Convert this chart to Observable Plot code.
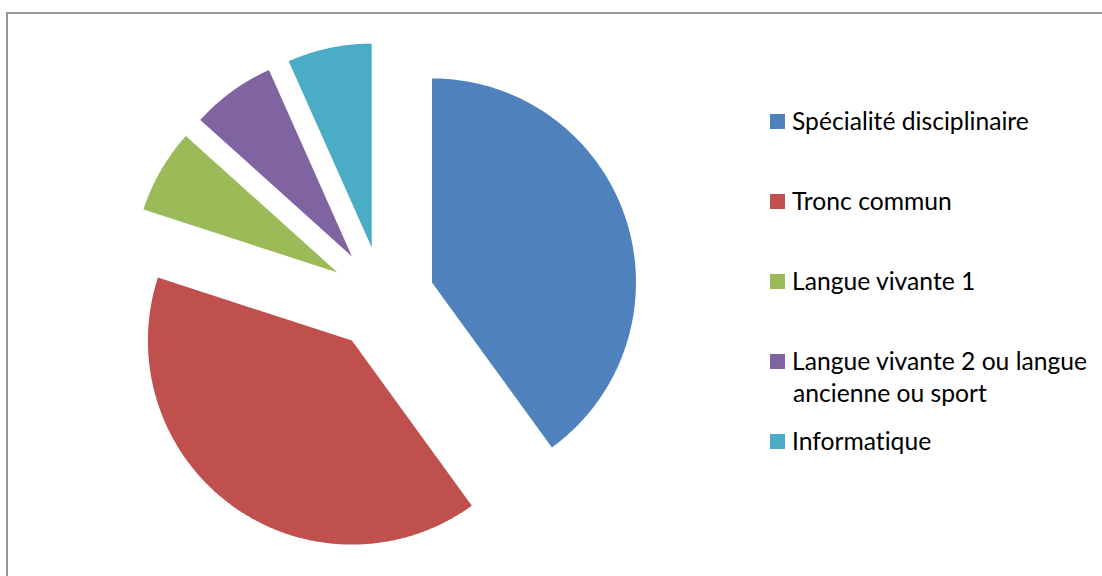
<!DOCTYPE html>
<html>
<head>
<meta charset="utf-8">
<script src="https://cdn.jsdelivr.net/npm/d3@7"></script>
<script src="https://cdn.jsdelivr.net/npm/@observablehq/plot@0.6"></script>
<style>
  html, body { margin: 0; padding: 0; background: #fff; overflow: hidden; width: 1102px; height: 576px; }
  #wrap { position: relative; width: 1102px; height: 576px; overflow: hidden; }
  #border { position: absolute; left: 6px; top: 12px; width: 1300px; height: 800px;
            border-left: 2px solid #969696; border-top: 2px solid #969696; box-sizing: border-box; }
  #chart { position: absolute; left: 0; top: 0; }
  #legend { position: absolute; left: 0; top: 0; width: 1102px; height: 576px;
            font-family: Lato, "Noto Sans", sans-serif; color: #000;
            font-variant-ligatures: none; font-feature-settings: "liga" 0, "clig" 0; }
  .sw { position: absolute; width: 15px; height: 15px; }
  .lt { position: absolute; white-space: nowrap; line-height: 1; }
  .strut { display: inline-block; width: 0; height: 0; }
</style>
</head>
<body>
<div id="wrap">
  <div id="border"></div>
  <div id="chart"></div>
  <div id="legend"></div>
</div>
<script>
// ---- Data ----
const categories = [
  "Spécialité disciplinaire",
  "Tronc commun",
  "Langue vivante 1",
  "Langue vivante 2 ou langue ancienne ou sport",
  "Informatique"
];
const values = [12, 12, 2, 2, 2];
const legendLines = [
  ["Spécialité disciplinaire"],
  ["Tronc commun"],
  ["Langue vivante 1"],
  ["Langue vivante 2 ou langue", "ancienne ou sport"],
  ["Informatique"]
];
const colors = ["#4F81BD", "#C0504D", "#9BBB59", "#8064A2", "#4BACC6"];

// ---- Layout ----
const W = 1102, H = 576;
const cx = 382, cy = 298, R = 204;   // pie centre and radius (px)
const explode = 0.255;               // explosion as fraction of radius

// ---- Pie geometry (in radius units, y up) ----
const arcs = d3.pie().sort(null).value(d => d)(values);
const rows = [];
arcs.forEach((a, i) => {
  const mid = (a.startAngle + a.endAngle) / 2;
  const ox = explode * Math.sin(mid), oy = explode * Math.cos(mid);
  rows.push({cat: categories[i], x: ox, y: oy});
  const n = Math.max(2, Math.ceil((a.endAngle - a.startAngle) / (Math.PI / 360)));
  for (let k = 0; k <= n; k++) {
    const t = a.startAngle + (a.endAngle - a.startAngle) * k / n;
    rows.push({cat: categories[i], x: ox + Math.sin(t), y: oy + Math.cos(t)});
  }
});

const chart = Plot.plot({
  width: W, height: H, margin: 0,
  style: {background: "transparent", overflow: "visible"},
  x: {domain: [-cx / R, (W - cx) / R], range: [0, W], axis: null},
  y: {domain: [cy / R, (cy - H) / R], range: [0, H], axis: null},
  color: {domain: categories, range: colors},
  marks: [
    Plot.line(rows, {x: "x", y: "y", z: "cat", fill: "cat", stroke: null, curve: "linear-closed"})
  ]
});
document.getElementById("chart").appendChild(chart);

// ---- Legend (HTML) ----
const legend = document.getElementById("legend");
const swX = 770, txtX = 792, firstBaseline = 129.5, rowStep = 80, lineStep = 32.7;
// fit font size so first label is ~237px wide
const ctx = document.createElement("canvas").getContext("2d");
ctx.font = "100px Lato";
const w100 = ctx.measureText(legendLines[0][0]).width;
const fontSize = Math.min(26, 237 / w100 * 100);
legend.style.fontSize = fontSize + "px";

legendLines.forEach((lines, i) => {
  const base = firstBaseline + rowStep * i;
  const sw = document.createElement("div");
  sw.className = "sw";
  sw.style.left = swX + "px";
  sw.style.top = (base - 15.5) + "px";
  sw.style.background = colors[i];
  legend.appendChild(sw);
  lines.forEach((ln, j) => {
    const d = document.createElement("div");
    d.className = "lt";
    d.style.left = (txtX + (j > 0 ? 1 : 0)) + "px";
    d.textContent = ln;
    const s = document.createElement("span");
    s.className = "strut";
    d.appendChild(s);
    legend.appendChild(d);
    const off = s.offsetTop;
    d.style.top = (base + j * lineStep - off) + "px";
  });
});
</script>
</body>
</html>
